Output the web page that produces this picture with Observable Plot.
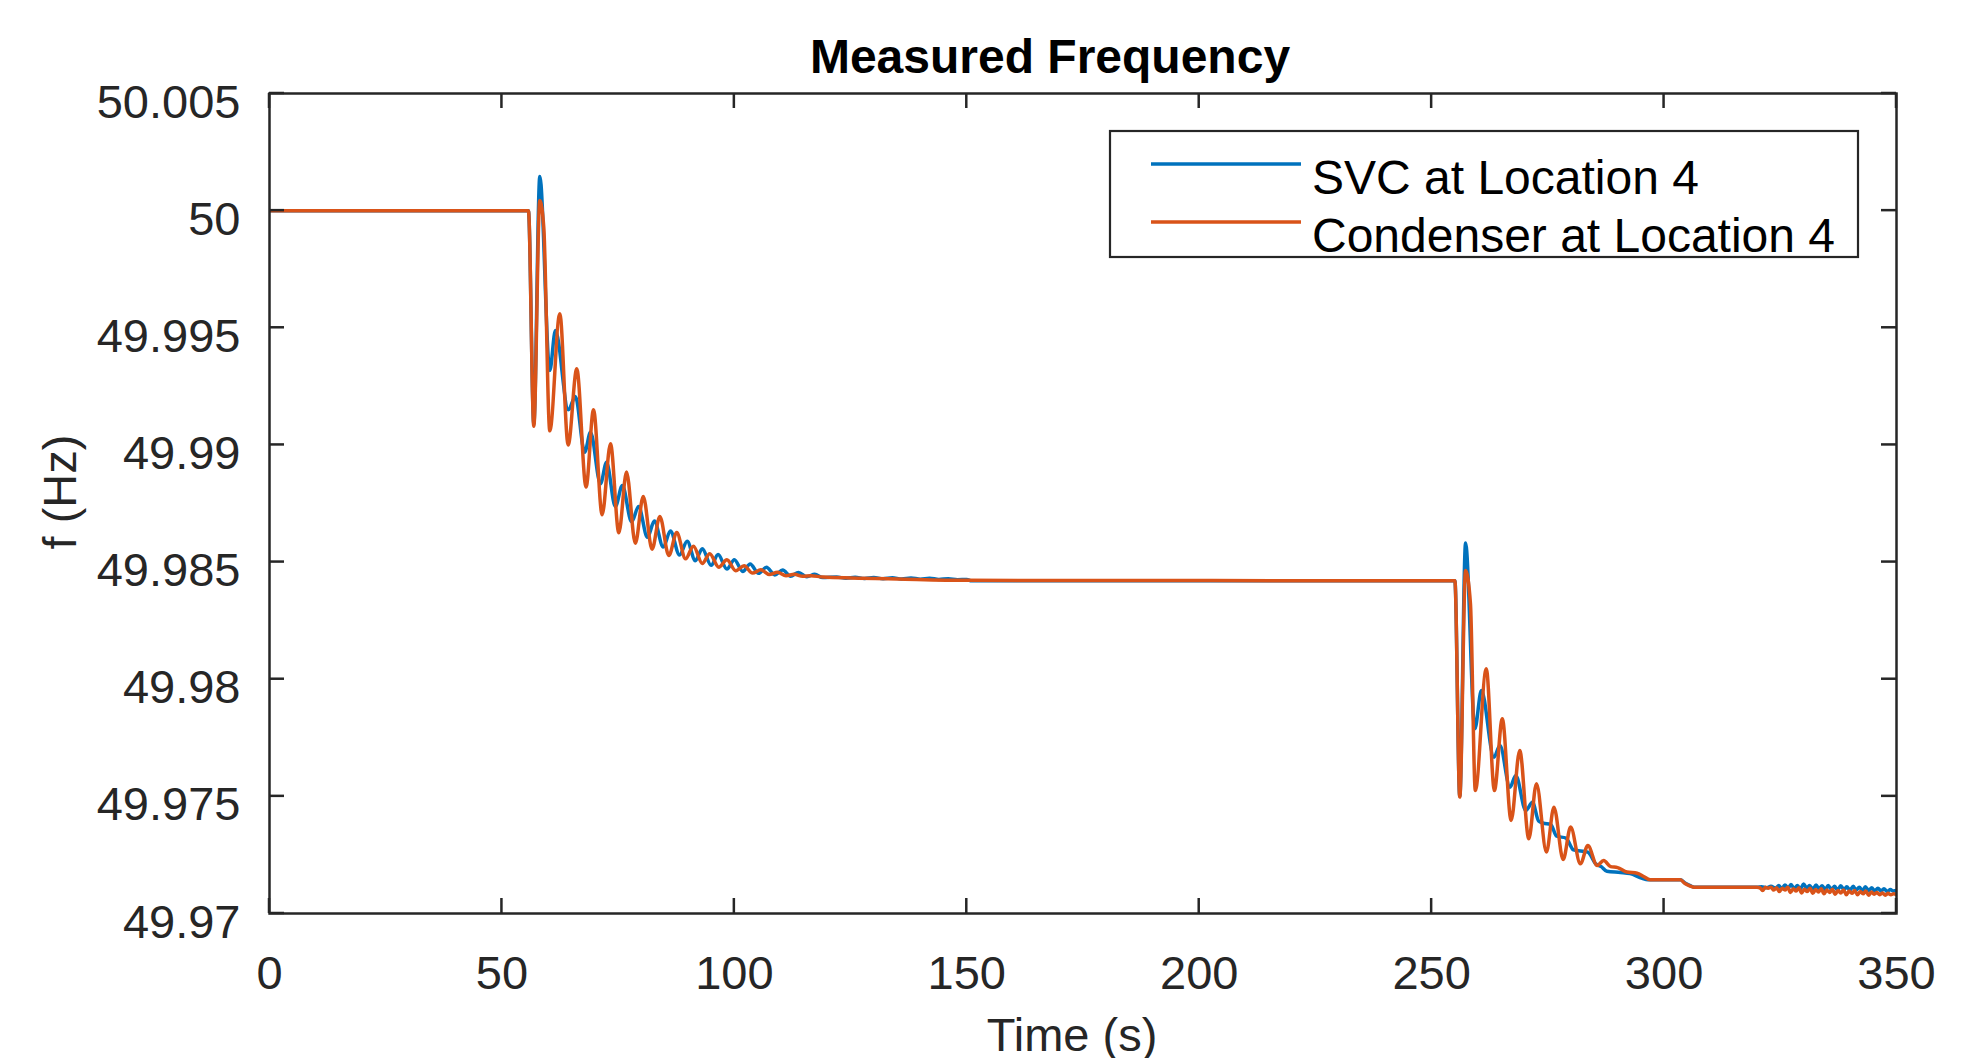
<!DOCTYPE html>
<html><head><meta charset="utf-8">
<script src="https://cdn.jsdelivr.net/npm/d3@7"></script>
<script src="https://cdn.jsdelivr.net/npm/@observablehq/plot@0.6"></script>
<style>
html,body{margin:0;padding:0;background:#fff;overflow:hidden;}
svg{display:block;}
</style></head><body><div id="chart"></div>
<script>
const chartTitle = "Measured Frequency";
const xLabel = "Time (s)";
const yLabel = "f (Hz)";
const seriesNames = ["SVC at Location 4", "Condenser at Location 4"];
const seriesColors = ["#0072BD", "#D95319"];
const xTicks = [0, 50, 100, 150, 200, 250, 300, 350];
const xTickLabels = ["0", "50", "100", "150", "200", "250", "300", "350"];
const yTicks = [49.97, 49.975, 49.98, 49.985, 49.99, 49.995, 50, 50.005];
const yTickLabels = ["49.97", "49.975", "49.98", "49.985", "49.99", "49.995", "50", "50.005"];

const svcTime = [0, 55.7, 56.86, 58.15, 60.3, 61.5, 64.3, 65.8, 67.8, 69.05, 71.2, 72.5, 74.4, 75.9, 77.9, 79.4, 81.3, 82.8, 84.7, 86.25, 88.2, 89.85, 91.6, 93.1, 95.0, 96.5, 98.4, 100.0, 101.8, 103.4, 105.2, 106.9, 108.7, 110.4, 112.1, 113.8, 115.6, 117.3, 119.0,
  122, 124, 126, 128, 130, 132, 134, 136, 138, 140, 142, 144, 146, 148, 150, 151, 255.0,
  256.05, 257.3, 259.3, 260.7, 263.4, 264.7, 266.85, 268.1, 270.25, 271.7, 273.0, 274.0, 275.6, 276.9, 278.9, 280.5, 283.6, 285.3, 286.5, 287.7, 290.6, 292.7, 295.3, 296.5, 303.5, 304.5, 305.5, 306.5, 320.0,
  321.0, 322.0, 323.0, 324.0, 324.7, 325.3, 326.0, 326.7, 327.3, 328.0, 328.7, 329.3, 330.0, 330.7, 331.3, 332.0, 332.7, 333.3, 334.0, 334.7, 335.3, 336.0, 336.7, 337.3, 338.0, 338.7, 339.3, 340.0, 340.7, 341.3, 342.0, 342.7, 343.3, 344.0, 344.7, 345.3, 346.0, 346.7, 347.3, 348.0, 348.7, 349.3, 350.0];
const svcFreq = [50.0000, 50.0000, 49.9909, 50.00146, 49.99318, 49.99488, 49.99150, 49.99207, 49.98969, 49.99054, 49.98834, 49.98926, 49.98737, 49.98827, 49.98672, 49.98737, 49.98606, 49.98675, 49.98564, 49.98633, 49.98530, 49.98589, 49.98506, 49.98557, 49.98486, 49.98532, 49.98470, 49.98510, 49.98460, 49.98492, 49.98452, 49.98478, 49.98445, 49.98466, 49.98440, 49.98456, 49.98437, 49.98448, 49.98434,
  49.98436, 49.98431, 49.98435, 49.98430, 49.98434, 49.98429, 49.98433, 49.98428, 49.98432, 49.98427, 49.98431, 49.98426, 49.98429, 49.98425, 49.98426, 49.98420, 49.98420,
  49.97500, 49.98581, 49.97789, 49.97952, 49.97667, 49.97717, 49.97539, 49.97589, 49.97440, 49.97475, 49.97395, 49.97386, 49.97380, 49.97330, 49.97322, 49.97272, 49.97262, 49.97212, 49.97200, 49.97180, 49.97175, 49.97170, 49.97150, 49.97144, 49.97144, 49.97130, 49.97120, 49.97112, 49.97112,
  49.97114, 49.97110, 49.97116, 49.97108, 49.97120, 49.97106, 49.97122, 49.97108, 49.97124, 49.97106, 49.97120, 49.97104, 49.97126, 49.97108, 49.97120, 49.97104, 49.97122, 49.97106, 49.97118, 49.97102, 49.97120, 49.97104, 49.97116, 49.97100, 49.97118, 49.97102, 49.97114, 49.97100, 49.97116, 49.97100, 49.97112, 49.97098, 49.97114, 49.97098, 49.97110, 49.97096, 49.97108, 49.97096, 49.97106, 49.97094, 49.97102, 49.97096, 49.97098];

const condTime = [0, 55.7, 56.86, 58.15, 59.0, 60.3, 62.45, 64.25, 66.1, 68.1, 69.7, 71.56, 73.35, 75.15, 76.8, 78.7, 80.4, 82.3, 83.97, 85.9, 87.6, 89.5, 91.2, 93.1, 94.7, 96.65, 98.4, 100.3, 102.1, 103.9, 105.7, 107.5, 109.3, 111.1, 112.9, 114.7, 116.5, 119, 135, 150, 255.0,
  256.05, 257.3, 258.35, 259.4, 261.75, 263.5, 265.2, 267.1, 268.95, 270.9, 272.55, 274.7, 276.3, 278.3, 279.9, 282.0, 283.6, 285.6, 287.0, 288.5, 290.0, 292.0, 294.2, 295.6, 297.0, 303.5, 304.5, 305.5, 306.5, 320.0,
  320.6, 321.2, 321.8, 322.4, 323.0, 323.6, 324.2, 324.8, 325.4, 326.0, 326.6, 327.2, 327.8, 328.4, 329.0, 329.6, 330.2, 330.8, 331.4, 332.0, 332.6, 333.2, 333.8, 334.4, 335.0, 335.6, 336.2, 336.8, 337.4, 338.0, 338.6, 339.2, 339.8, 340.4, 341.0, 341.6, 342.2, 342.8, 343.4, 344.0, 344.6, 345.2, 345.8, 346.4, 347.0, 347.6, 348.2, 348.8, 349.4, 350.0];
const condFreq = [50.0000, 50.0000, 49.9908, 50.00043, 49.99930, 49.99060, 49.99560, 49.99000, 49.99325, 49.98820, 49.99150, 49.98702, 49.99005, 49.98625, 49.98884, 49.98580, 49.98780, 49.98555, 49.98695, 49.98528, 49.98626, 49.98514, 49.98568, 49.98494, 49.98535, 49.98478, 49.98510, 49.98463, 49.98484, 49.98453, 49.98467, 49.98447, 49.98457, 49.98442, 49.98448, 49.98439, 49.98442, 49.98436, 49.98428, 49.98422, 49.98420,
  49.97497, 49.98464, 49.98322, 49.97525, 49.98045, 49.97525, 49.97831, 49.97397, 49.97696, 49.97319, 49.97554, 49.97262, 49.97454, 49.97230, 49.97369, 49.97212, 49.97290, 49.97205, 49.97226, 49.97200, 49.97196, 49.97177, 49.97172, 49.97158, 49.97144, 49.97144, 49.97128, 49.97118, 49.97112, 49.97112,
  49.97110, 49.97098, 49.97112, 49.97108, 49.97112, 49.97100, 49.97110, 49.97094, 49.97108, 49.97100, 49.97112, 49.97090, 49.97106, 49.97096, 49.97110, 49.97088, 49.97104, 49.97094, 49.97108, 49.97086, 49.97102, 49.97092, 49.97106, 49.97084, 49.97100, 49.97090, 49.97104, 49.97082, 49.97098, 49.97088, 49.97100, 49.97080, 49.97096, 49.97086, 49.97098, 49.97080, 49.97094, 49.97084, 49.97096, 49.97078, 49.97092, 49.97082, 49.97090, 49.97080, 49.97088, 49.97078, 49.97086, 49.97080, 49.97084, 49.97080];

const svcRows = svcTime.map((t, i) => ({t, f: svcFreq[i], s: seriesNames[0]}));
const condRows = condTime.map((t, i) => ({t, f: condFreq[i], s: seriesNames[1]}));

const W = 1978, H = 1058;
const FONT = "'Liberation Sans', Arial, Helvetica, sans-serif";
const AX = "#262626";
const mLeft = 269, mRight = 82, mTop = 93, mBottom = 145;

const plot = Plot.plot({
  width: W, height: H,
  marginLeft: mLeft, marginRight: mRight, marginTop: mTop, marginBottom: mBottom,
  x: {domain: [0, 350]},
  y: {domain: [49.97, 50.005]},
  style: {fontFamily: FONT, background: "white", overflow: "visible"},
  marks: [
    Plot.lineY(svcRows, {x: "t", y: "f", stroke: seriesColors[0], strokeWidth: 3.5, curve: "monotone-x", clip: true}),
    Plot.lineY(condRows, {x: "t", y: "f", stroke: seriesColors[1], strokeWidth: 3.5, curve: "monotone-x", clip: true}),
    Plot.frame({stroke: AX, strokeWidth: 2.5}),
    Plot.axisX(xTicks, {tickSize: 0, tickPadding: 42, fontSize: 47, fill: AX, label: null,
      tickFormat: d => xTickLabels[xTicks.indexOf(d)]}),
    Plot.axisY(yTicks, {tickSize: 0, tickPadding: 29, fontSize: 47, fill: AX, label: null, dy: 9,
      tickFormat: d => yTickLabels[yTicks.indexOf(d)]})
  ]
});
document.getElementById("chart").appendChild(plot);

const svg = d3.select(plot);
const xs = plot.scale("x"), ys = plot.scale("y");
const pLeft = mLeft, pRight = W - mRight, pTop = mTop, pBottom = H - mBottom, TL = 15;
const tg = svg.append("g").attr("stroke", AX).attr("stroke-width", 2.5);
xTicks.forEach(v => {
  const x = xs.apply(v);
  tg.append("line").attr("x1", x).attr("x2", x).attr("y1", pBottom).attr("y2", pBottom - TL);
  tg.append("line").attr("x1", x).attr("x2", x).attr("y1", pTop).attr("y2", pTop + TL);
});
yTicks.forEach(v => {
  const y = ys.apply(v);
  tg.append("line").attr("x1", pLeft).attr("x2", pLeft + TL).attr("y1", y).attr("y2", y);
  tg.append("line").attr("x1", pRight).attr("x2", pRight - TL).attr("y1", y).attr("y2", y);
});

svg.append("text").text(chartTitle).attr("x", 1050).attr("y", 73)
  .attr("text-anchor", "middle").attr("font-family", FONT).attr("font-weight", "bold")
  .attr("font-size", 48).attr("fill", "#000");
svg.append("text").text(xLabel).attr("x", 1072).attr("y", 1051)
  .attr("text-anchor", "middle").attr("font-family", FONT).attr("font-size", 47).attr("fill", AX);
svg.append("text").text(yLabel).attr("transform", "translate(76,492) rotate(-90)")
  .attr("text-anchor", "middle").attr("font-family", FONT).attr("font-size", 47).attr("fill", AX);

const lg = svg.append("g");
lg.append("rect").attr("x", 1110).attr("y", 131).attr("width", 748).attr("height", 126)
  .attr("fill", "white").attr("stroke", AX).attr("stroke-width", 2.2);
const legendY = [164, 222], legendTextY = [194, 252];
seriesNames.forEach((name, i) => {
  lg.append("line").attr("x1", 1151).attr("x2", 1301).attr("y1", legendY[i]).attr("y2", legendY[i])
    .attr("stroke", seriesColors[i]).attr("stroke-width", 3.5);
  lg.append("text").text(name).attr("x", 1312).attr("y", legendTextY[i])
    .attr("text-anchor", "start")
    .attr("font-family", FONT).attr("font-size", 48).attr("fill", "#000");
});
</script></body></html>
